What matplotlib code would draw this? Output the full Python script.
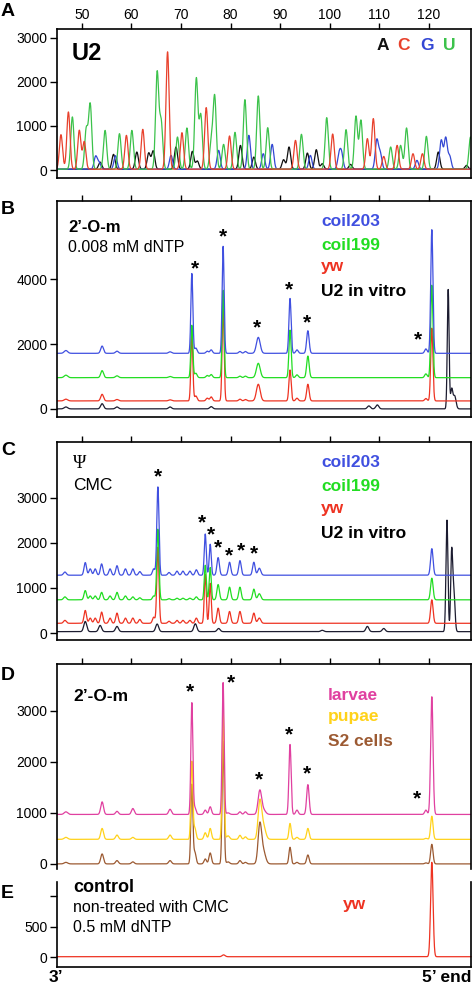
# -*- coding: utf-8 -*-
# Traces de sequencage capillaire U2 : panneaux A a E

import numpy as np
import matplotlib
matplotlib.use('Agg')
import matplotlib.pyplot as plt
import matplotlib.transforms as mtransforms

plt.rcParams['font.family'] = ['Liberation Sans', 'DejaVu Sans']

# ---------------- donnees ----------------
xticks = [50, 60, 70, 80, 90, 100, 110, 120]

# A : sequencage (pics A, C, G, U)
a_A_pos = [53.7, 56.4, 61.1, 63.5, 64.4, 69.0, 72.3, 73.3, 82.0, 84.7, 90.7, 91.8, 95.5, 97.3, 98.5, 104.2, 121.9, 127.6]
a_A_h = [180, 356, 409, 386, 432, 523, 424, 205, 560, 295, 235, 523, 386, 462, 144, 129, 409, 106]
a_C_pos = [45.8, 47.3, 49.5, 50.5, 59.0, 62.3, 67.3, 70.2, 75.1, 79.8, 93.1, 100.6, 107.6, 108.8, 110.9, 113.6, 116.8, 118.7]
a_C_h = [803, 1318, 900, 644, 788, 924, 2682, 848, 1417, 773, 674, 818, 712, 1167, 310, 560, 371, 371]
a_G_pos = [52.8, 53.5, 56.8, 68.0, 77.6, 83.7, 86.6, 88.4, 96.1, 101.9, 102.4, 109.5, 110.2, 117.6, 122.5, 123.4, 124.2]
a_G_h = [310, 167, 326, 333, 447, 788, 371, 583, 333, 333, 348, 674, 371, 220, 674, 727, 310]
a_U_pos = [48.1, 50.9, 51.7, 54.7, 57.6, 60.1, 65.2, 66.0, 69.3, 71.2, 73.1, 74.0, 76.1, 76.8, 78.6, 80.9,
           82.9, 85.6, 87.5, 94.3, 99.4, 103.3, 105.3, 106.3, 112.3, 114.3, 115.5, 119.5, 128.4]
a_U_h = [1205, 917, 1485, 900, 826, 900, 2205, 1090, 750, 955, 2076, 1242, 614, 1659, 583, 856,
         1598, 1682, 962, 811, 1190, 917, 1220, 1129, 523, 560, 955, 765, 750]

# B : 2'-O-m, 0.008 mM dNTP
b_pos = [46.8, 54.1, 57.1, 67.8, 72.2, 73.0, 75.3, 76.1, 78.5, 81.9, 83.0, 85.6, 92.0, 93.4, 95.6, 119.4, 120.6]
b_wid = [0.35, 0.28, 0.3, 0.3, 0.2, 0.25, 0.25, 0.25, 0.2, 0.25, 0.25, 0.38, 0.22, 0.25, 0.25, 0.25, 0.22]
b_blue = [1800, 1938, 1780, 1760, 4175, 1876, 1780, 1820, 5015, 1770, 1770, 2206, 3406, 1820, 2410, 1850, 5528]
b_green = [1040, 1180, 1020, 1000, 2580, 1100, 1030, 1060, 3660, 1010, 1010, 1406, 2430, 1050, 1630, 1080, 3815]
b_red = [300, 450, 290, 280, 2277, 400, 330, 370, 3150, 300, 290, 760, 1200, 330, 760, 320, 2490]
b_base = [1714, 963, 246]
b_blk_pos = [46.8, 54.1, 57.1, 67.8, 76.1, 107.9, 109.6, 123.9, 124.6, 125.2]
b_blk_h = [60, 160, 60, 60, 70, 92, 123, 3680, 600, 400]
b_blk_w = [0.35, 0.3, 0.3, 0.3, 0.3, 0.3, 0.3, 0.18, 0.22, 0.28]
b_star_x = [72.77, 78.47, 85.38, 91.75, 95.44, 117.9]
b_star_y = [4483, 5455, 2637, 3815, 2791, 2277]

# C : pseudouridine, CMC
c_pos = [46.6, 50.7, 51.7, 52.7, 54.0, 55.7, 57.1, 58.8, 60.3, 61.7, 64.5, 65.35, 67.6, 69.2, 70.4,
         71.8, 73.1, 74.9, 75.9, 77.5, 79.8, 81.9, 84.7, 85.8, 120.6]
c_wid = [0.28, 0.25, 0.25, 0.25, 0.25, 0.25, 0.25, 0.25, 0.25, 0.25, 0.25, 0.22, 0.25, 0.25, 0.25,
         0.25, 0.25, 0.2, 0.2, 0.25, 0.25, 0.25, 0.25, 0.3, 0.25]
c_blue = [1350, 1560, 1420, 1420, 1530, 1420, 1490, 1420, 1420, 1360, 1420, 3236, 1340, 1370, 1370,
          1370, 1400, 2192, 1965, 1670, 1567, 1603, 1567, 1435, 1868]
c_green = [800, 940, 820, 820, 900, 820, 900, 820, 800, 780, 820, 2300, 760, 770, 770,
           770, 800, 1500, 1450, 1073, 1015, 1015, 971, 870, 1214]
c_red = [280, 500, 330, 330, 463, 330, 441, 330, 331, 300, 350, 1900, 260, 280, 280,
         280, 330, 1300, 1100, 551, 477, 477, 441, 331, 735]
c_base = [1280, 735, 215, 30]
c_blk_pos = [50.7, 53.7, 57.1, 65.2, 72.9, 77.6, 98.5, 107.6, 110.9, 123.65, 124.6, 125.05]
c_blk_h = [256, 168, 146, 199, 205, 100, 60, 146, 100, 2500, 1780, 900]
c_blk_w = [0.3, 0.3, 0.3, 0.3, 0.3, 0.3, 0.3, 0.3, 0.3, 0.2, 0.2, 0.22]
c_star_x = [65.38, 74.31, 76.13, 77.46, 79.67, 82.02, 84.7]
c_star_y = [3568, 2539, 2280, 1987, 1824, 1927, 1854]

# D : 2'-O-m, stades
d_pos = [46.8, 54.1, 57.1, 60.3, 67.8, 72.2, 72.8, 74.9, 75.9, 78.5, 79.5, 81.9, 83.0, 85.9, 86.6,
         92.0, 93.4, 95.6, 119.4, 120.6]
d_wid = [0.35, 0.28, 0.28, 0.28, 0.28, 0.2, 0.25, 0.25, 0.25, 0.2, 0.3, 0.25, 0.25, 0.35, 0.45,
         0.22, 0.25, 0.25, 0.25, 0.24]
d_mag = [1020, 1215, 1030, 1085, 1070, 3152, 1100, 1054, 1119, 3554, 1000, 1020, 1020, 1423, 1060,
         2339, 1054, 1553, 1054, 3275]
d_yel = [520, 695, 565, 520, 565, 2000, 700, 610, 695, 3000, 550, 560, 530, 1183, 750,
         793, 520, 695, 500, 935]
d_brn = [30, 195, 65, 40, 65, 1550, 227, 97, 214, 2400, 40, 65, 30, 741, 250,
         325, 30, 175, 20, 384]
d_base = [969, 481, 0]
d_star_x = [71.9, 80.15, 85.7, 91.75, 95.37, 117.7]
d_star_y = [3470, 3639, 1735, 2625, 1865, 1378]

# E : controle
e_pos = [78.6, 120.6]
e_h = [40, 1550]
e_wid = [0.3, 0.25]

# couleurs
cA, cC, cG, cU = '#111111', '#e8412c', '#3347d4', '#3cc24b'
bleu, vert, rouge, noir = '#4050e0', '#22dd22', '#ee3322', '#1c1c30'
mag, jaune, brun = '#e040a0', '#ffd21a', '#9c5a32'

x = np.linspace(45, 128.5, 4000)


def trace(base, pos, top, wid):
    '''Ligne de base + pics gaussiens'''
    if np.isscalar(wid):
        wid = [wid] * len(pos)
    y = np.full_like(x, float(base))
    for p, t, s in zip(pos, top, wid):
        y = y + (t - base) * np.exp(-0.5 * ((x - p) / s) ** 2)
    return y


fig = plt.figure(figsize=(4.72, 9.86), dpi=100)
H = 986.0
L, W = 57 / 472.0, 414 / 472.0


def axe(top, bottom):
    return fig.add_axes([L, (H - bottom) / H, W, (bottom - top) / H])


def style(ax, ylim, yticks, ylabels, haut=True):
    ax.set_xlim(45, 128.5)
    ax.set_ylim(*ylim)
    ax.set_yticks(yticks)
    ax.set_yticklabels(ylabels)
    for s in ax.spines.values():
        s.set_linewidth(1.2)
    ax.tick_params(axis='y', direction='out', length=5, width=1, pad=2, labelsize=10)
    ax.set_xticks(xticks)
    ax.tick_params(axis='x', direction='out', length=4, width=1, bottom=False, labelbottom=False,
                   top=haut, labeltop=False)


def etoiles(ax, xs, ys):
    fs = 15
    for xx, yy in zip(xs, ys):
        tr = mtransforms.offset_copy(ax.transData, fig=fig, x=0, y=-0.5 * fs, units='points')
        ax.text(xx, yy, '*', transform=tr, ha='center', va='baseline', fontsize=fs,
                fontweight='bold', color='black')


lw = 0.9

# ---- A ----
ax = axe(29, 178)
style(ax, (-180, 3200), [0, 1000, 2000, 3000], ['0', '1000', '2000', '3000'])
ax.tick_params(axis='x', labeltop=True, labelsize=10, pad=1)
ax.plot(x, trace(20, a_A_pos, a_A_h, 0.32), color=cA, lw=lw)
ax.plot(x, trace(20, a_G_pos, a_G_h, 0.32), color=cG, lw=lw)
ax.plot(x, trace(20, a_U_pos, a_U_h, 0.32), color=cU, lw=lw)
ax.plot(x, trace(20, a_C_pos, a_C_h, 0.32), color=cC, lw=lw)
ax.text(0.036, 0.835, 'U2', transform=ax.transAxes, fontsize=17, fontweight='bold', va='center')
for lettre, px, c in zip(['A', 'C', 'G', 'U'], [383, 404, 427, 449], [cA, cC, cG, cU]):
    fig.text(px / 472.0, 1 - 45.7 / H, lettre, color=c, fontsize=12.5, fontweight='bold',
             ha='center', va='center')

# ---- B ----
ax = axe(200.7, 417)
style(ax, (-250, 6420), [0, 2000, 4000], ['0', '2000', '4000'])
ax.plot(x, trace(0, b_blk_pos, b_blk_h, b_blk_w), color=noir, lw=lw)
ax.plot(x, trace(b_base[2], b_pos, b_red, b_wid), color=rouge, lw=lw)
ax.plot(x, trace(b_base[1], b_pos, b_green, b_wid), color=vert, lw=lw)
ax.plot(x, trace(b_base[0], b_pos, b_blue, b_wid), color=bleu, lw=lw)
etoiles(ax, b_star_x, b_star_y)

# ---- C ----
ax = axe(441.7, 640)
style(ax, (-155, 4236), [0, 1000, 2000, 3000], ['0', '1000', '2000', '3000'])
ax.plot(x, trace(c_base[3], c_blk_pos, c_blk_h, c_blk_w), color=noir, lw=lw)
ax.plot(x, trace(c_base[2], c_pos, c_red, c_wid), color=rouge, lw=lw)
ax.plot(x, trace(c_base[1], c_pos, c_green, c_wid), color=vert, lw=lw)
ax.plot(x, trace(c_base[0], c_pos, c_blue, c_wid), color=bleu, lw=lw)
etoiles(ax, c_star_x, c_star_y)

# ---- D ----
ax = axe(664, 869)
style(ax, (-100, 3916), [0, 1000, 2000, 3000], ['0', '1000', '2000', '3000'])
ax.spines['bottom'].set_visible(False)
ax.plot(x, trace(d_base[2], d_pos, d_brn, d_wid), color=brun, lw=lw)
ax.plot(x, trace(d_base[1], d_pos, d_yel, d_wid), color=jaune, lw=lw)
ax.plot(x, trace(d_base[0], d_pos, d_mag, d_wid), color=mag, lw=lw)
etoiles(ax, d_star_x, d_star_y)

# ---- E ----
ax = axe(882, 966.7)
style(ax, (-153, 1228), [0, 500, 1000], ['0', '500', ''], haut=False)
ax.spines['top'].set_visible(False)
ax.plot(x, trace(10, e_pos, e_h, e_wid), color=rouge, lw=lw, clip_on=False)

# ---- textes ----
def t(px, py, s, **kw):
    fig.text(px / 472.0, 1 - py / H, s, va='center', **kw)

for lettre, py in zip('ABCDE', [12, 210, 450, 675, 894]):
    t(1, py, lettre, fontsize=14, fontweight='bold')

t(68, 227.5, u'2\u2019-O-m', fontsize=12, fontweight='bold')
t(68, 247.7, '0.008 mM dNTP', fontsize=11.5)
for s, py, c in zip(['coil203', 'coil199', 'yw', 'U2 in vitro'], [221.7, 245, 266, 291.7],
                    [bleu, vert, rouge, 'black']):
    t(321, py, s, fontsize=12.5, fontweight='bold', color=c)

t(73, 463.7, u'\u03a8', fontsize=13, family=['Liberation Serif', 'DejaVu Serif'])
t(73, 485.8, 'CMC', fontsize=12.5)
for s, py, c in zip(['coil203', 'coil199', 'yw', 'U2 in vitro'], [462.3, 486.7, 508, 533.3],
                    [bleu, vert, rouge, 'black']):
    t(321, py, s, fontsize=12.5, fontweight='bold', color=c)

t(73, 696.7, u'2\u2019-O-m', fontsize=12.5, fontweight='bold')
for s, py, c in zip(['larvae', 'pupae', 'S2 cells'], [695, 716.5, 741], [mag, jaune, brun]):
    t(328, py, s, fontsize=12.5, fontweight='bold', color=c)

t(73, 887.3, 'control', fontsize=13, fontweight='bold')
t(73, 907.3, 'non-treated with CMC', fontsize=11.5)
t(73, 927.7, '0.5 mM dNTP', fontsize=11.5)
t(343, 904, 'yw', fontsize=12.5, fontweight='bold', color=rouge)
t(49, 978, u'3\u2019', fontsize=12.5, fontweight='bold')
fig.text(471 / 472.0, 1 - 978 / H, u'5\u2019 end', va='center', ha='right', fontsize=12.5,
         fontweight='bold')

fig.savefig('out.png', dpi=100)
